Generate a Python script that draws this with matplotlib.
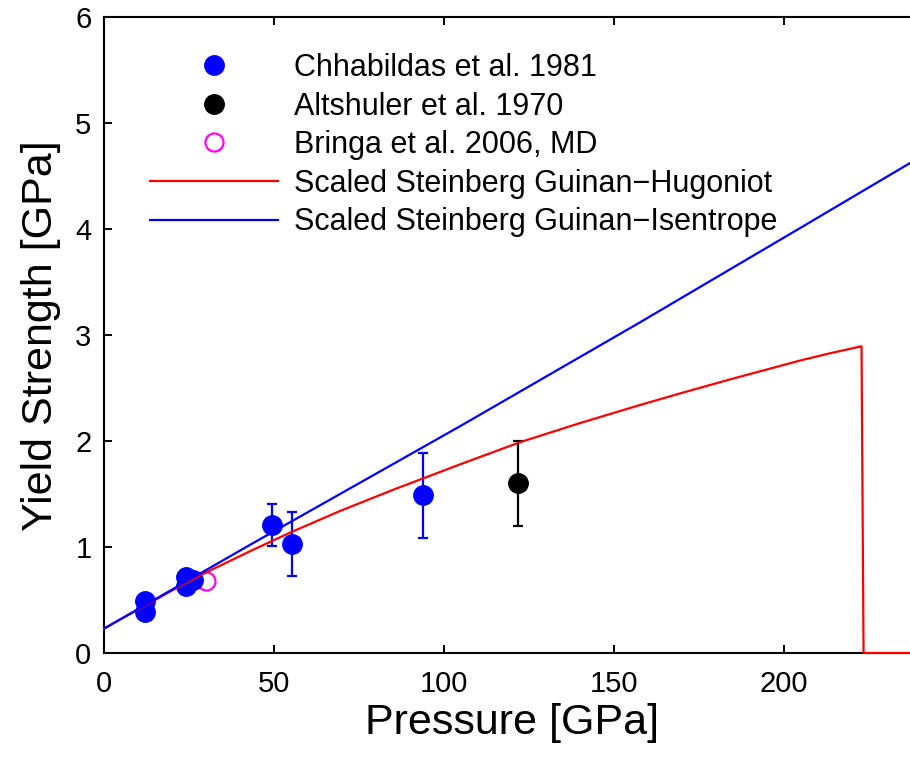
import matplotlib
matplotlib.use("Agg")
import matplotlib.pyplot as plt
from matplotlib.lines import Line2D

plt.rcParams['font.family'] = ['Liberation Sans', 'DejaVu Sans']

# ---------------------------------------------------------
# data
# ---------------------------------------------------------
chh_p = [12, 12, 24, 24, 26.3, 49.3, 55.4, 93.7]
chh_y = [0.49, 0.39, 0.72, 0.63, 0.69, 1.21, 1.03, 1.49]
chh_err = [0, 0, 0, 0, 0, 0.2, 0.3, 0.4]

alt_p = [121.7]
alt_y = [1.60]
alt_err = [0.4]

bri_p = [30]
bri_y = [0.68]

hug_p = [0, 10, 20, 30, 42.9, 55, 69.4, 85, 104.7, 122.4, 140, 157.6, 169.4, 185,
         204.7, 213, 222.8, 223.4, 240]
hug_y = [0.23, 0.41, 0.59, 0.76, 0.96, 1.14, 1.34, 1.54, 1.78, 1.99, 2.17, 2.34, 2.45, 2.59,
         2.76, 2.825, 2.895, 0, 0]

ise_p = [0, 42.9, 104.7, 157.6, 204.7, 240]
ise_y = [0.23, 1.02, 2.14, 3.12, 4.01, 4.68]

labels = ['Chhabildas et al. 1981', 'Altshuler et al. 1970', 'Bringa et al. 2006, MD',
          'Scaled Steinberg Guinan\u2212Hugoniot', 'Scaled Steinberg Guinan\u2212Isentrope']

# ---------------------------------------------------------
# figure
# ---------------------------------------------------------
W, H = 910, 759
fig = plt.figure(figsize=(W / 100, H / 100), dpi=100)
ax = fig.add_axes([104 / W, (H - 653) / H, 816 / W, (653 - 17.3) / H])

ax.errorbar(chh_p, chh_y, yerr=chh_err, fmt='o', color='blue', ms=14, mec='blue',
            elinewidth=1.6, capsize=3.5, capthick=1.6, zorder=2)
ax.errorbar(alt_p, alt_y, yerr=alt_err, fmt='o', color='black', ms=14,
            elinewidth=1.6, capsize=3.5, capthick=1.6, zorder=2)
ax.plot(bri_p, bri_y, 'o', mfc='none', mec='magenta', ms=13, mew=1.6, zorder=2)

ax.plot(hug_p, hug_y, '-', color='red', lw=1.6, zorder=3, clip_on=False)
ax.plot(ise_p, ise_y, '-', color='blue', lw=1.6, zorder=3)

ax.set_xlim(0, 240)
ax.set_ylim(0, 6)
ax.set_xticks([0, 50, 100, 150, 200])
ax.set_yticks(range(7))
ax.tick_params(direction='in', length=6, width=1.4, top=True, right=True,
               labelsize=21, pad=9)
ax.tick_params(axis='x', pad=12)
for s in ax.spines.values():
    s.set_linewidth(1.5)

ax.set_xlabel('Pressure [GPa]', fontsize=31, labelpad=4)
ax.set_ylabel('Yield Strength [GPa]', fontsize=31, labelpad=10)

handles = [
    Line2D([], [], ls='none', marker='o', color='blue', ms=14),
    Line2D([], [], ls='none', marker='o', color='black', ms=14),
    Line2D([], [], ls='none', marker='o', mfc='none', mec='magenta', ms=13, mew=1.6),
    Line2D([], [], color='red', lw=1.6),
    Line2D([], [], color='blue', lw=1.6),
]
fig.legend(handles, labels, loc='upper left', bbox_to_anchor=(150 / W, 1 - 53 / H),
           frameon=False, fontsize=22, handlelength=4.2, handletextpad=0.5,
           labelspacing=0.28, borderpad=0, borderaxespad=0)

fig.savefig('out.png', dpi=100)
